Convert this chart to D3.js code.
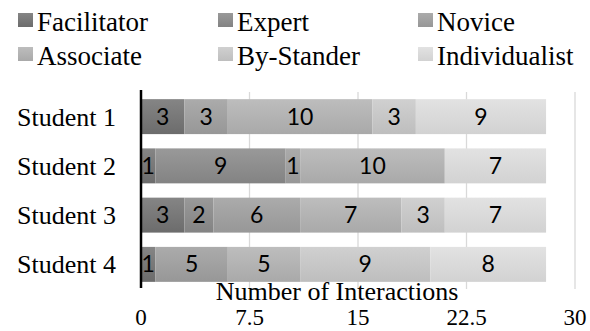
<!DOCTYPE html>
<html><head><meta charset="utf-8">
<script src="https://cdn.jsdelivr.net/npm/d3@7"></script>
<style>body{margin:0;background:#fff}svg{display:block}</style>
</head><body>
<svg id="c" width="590" height="331"></svg>
<script>
const students = ["Student 1","Student 2","Student 3","Student 4"];
const roles = ["Facilitator","Expert","Novice","Associate","By-Stander","Individualist"];
const facilitator   = [3,1,3,1];
const expert        = [0,9,2,0];
const novice        = [3,1,6,5];
const associate     = [10,10,7,5];
const byStander     = [3,0,3,9];
const individualist = [9,7,7,8];
const xTicks = [0,7.5,15,22.5,30];
const axisTitle = "Number of Interactions";

const SERIF = '"Liberation Serif"';
const SANS = '"Lato"';

const series = [facilitator,expert,novice,associate,byStander,individualist];
const tops    = ["#858585","#999999","#ababab","#bdbdbd","#d0d0d0","#e2e2e2"];
const bottoms = ["#6c6c6c","#838383","#979797","#a9a9a9","#bebebe","#d2d2d2"];

const svg = d3.select("#c");
const defs = svg.append("defs");
roles.forEach((r,i)=>{
  const g = defs.append("linearGradient").attr("id","g"+i).attr("x1",0).attr("y1",0).attr("x2",0).attr("y2",1);
  g.append("stop").attr("offset","0%").attr("stop-color",tops[i]);
  g.append("stop").attr("offset","100%").attr("stop-color",bottoms[i]);
});

const table = students.map((s,j)=>{ const o={student:s}; roles.forEach((r,i)=>o[r]=series[i][j]); return o; });
const stacked = d3.stack().keys(roles)(table);

const x = d3.scaleLinear().domain([0,30]).range([141,575]);
const y = d3.scaleBand().domain(students).range([92,289]).paddingInner(0.29).paddingOuter(0.145);

svg.append("g").selectAll("line").data(xTicks.slice(1)).join("line")
  .attr("x1",d=>x(d)).attr("x2",d=>x(d)).attr("y1",92).attr("y2",289)
  .attr("stroke","#d9d9d9").attr("stroke-width",1.3);

const layers = svg.append("g").selectAll("g").data(stacked).join("g")
  .attr("fill",(d,i)=>`url(#g${i})`);
layers.selectAll("rect").data(d=>d.map(v=>({v,key:d.key}))).join("rect")
  .attr("x",d=>x(d.v[0])).attr("width",d=>x(d.v[1])-x(d.v[0]))
  .attr("y",d=>y(d.v.data.student)).attr("height",y.bandwidth());

layers.selectAll("text").data(d=>d.filter(v=>v[1]-v[0]>0)).join("text")
  .style("font-family",SANS)
  .attr("x",d=>(x(d[0])+x(d[1]))/2)
  .attr("y",d=>y(d.data.student)+y.bandwidth()/2+8)
  .attr("text-anchor","middle").attr("fill","#000")
  .attr("font-size",23)
  .text(d=>d[1]-d[0]);

svg.append("line").attr("x1",x(0)).attr("x2",x(0)).attr("y1",90).attr("y2",288)
  .attr("stroke","#000").attr("stroke-width",2.5);

svg.append("g").selectAll("text").data(students).join("text")
  .style("font-family",SERIF)
  .attr("x",116).attr("y",d=>y(d)+y.bandwidth()/2+9)
  .attr("text-anchor","end").attr("font-size",26)
  .text(d=>d);

svg.append("g").selectAll("text").data(xTicks).join("text")
  .style("font-family",SERIF)
  .attr("x",d=>x(d)).attr("y",325)
  .attr("text-anchor","middle").attr("font-size",23)
  .text(d=>d);

svg.append("text").style("font-family",SERIF).attr("x",337).attr("y",300).attr("text-anchor","middle")
  .attr("font-size",26).text(axisTitle);

const lg = svg.append("g").selectAll("g").data(roles).join("g")
  .attr("transform",(d,i)=>`translate(${[18,218,418][i%3]},${[13,47][Math.floor(i/3)]})`);
lg.append("rect").attr("width",15).attr("height",14).attr("fill",(d,i)=>`url(#g${i})`);
lg.append("text").style("font-family",SERIF).attr("x",19).attr("y",18).attr("font-size",27).text(d=>d);
</script>
</body></html>
